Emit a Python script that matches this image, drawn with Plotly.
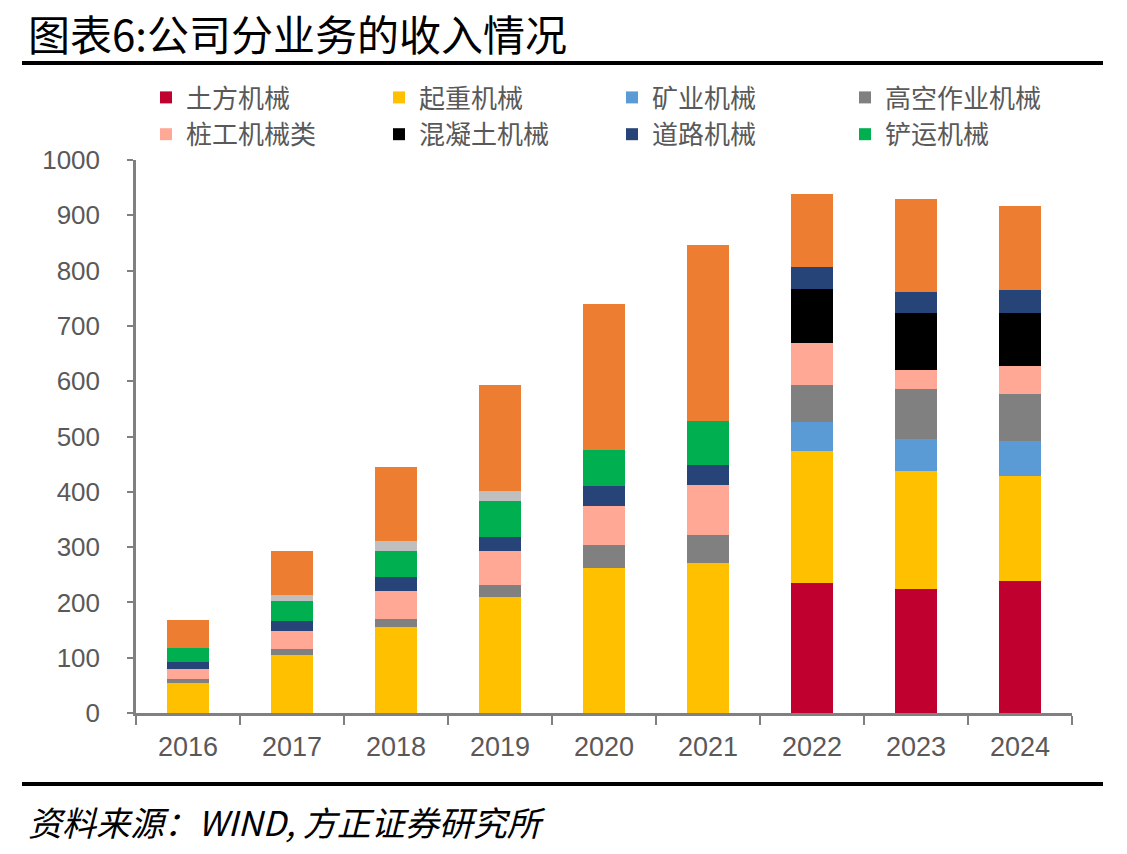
import plotly.graph_objects as go

years = ["2016", "2017", "2018", "2019", "2020", "2021", "2022", "2023", "2024"]

earth = [0, 0, 0, 0, 0, 0, 235, 224, 239]          # 土方机械
crane = [54, 104, 155, 209, 263, 271, 238, 213, 190]  # 起重机械
mining = [0, 0, 0, 0, 0, 0, 54, 58, 62]            # 矿业机械
aerial = [7, 11, 15, 22, 40, 51, 66, 90, 86]        # 高空作业机械
piling = [18, 33, 51, 62, 72, 90, 76, 36, 51]       # 桩工机械类
concrete = [0, 0, 0, 0, 0, 0, 97, 102, 95]          # 混凝土机械
road = [14, 18, 25, 25, 36, 36, 40, 39, 42]         # 道路机械
shovel = [25, 36, 47, 65, 65, 80, 0, 0, 0]         # 铲运机械
other_small = [0, 11, 18, 18, 0, 0, 0, 0, 0]        # 其他(浅灰)
other = [50, 80, 134, 192, 264, 318, 133, 167, 152] # 其他(橙)

series = [
    ("土方机械", earth, "#C0002F", True),
    ("起重机械", crane, "#FFC000", True),
    ("矿业机械", mining, "#5B9BD5", True),
    ("高空作业机械", aerial, "#808080", True),
    ("桩工机械类", piling, "#FFA895", True),
    ("混凝土机械", concrete, "#000000", True),
    ("道路机械", road, "#264478", True),
    ("铲运机械", shovel, "#00B050", True),
    ("其他机械", other_small, "#BFBFBF", False),
    ("其他", other, "#ED7D31", False),
]

W, H = 1127, 854
L, R, T, B = 136, 1072, 160, 713


def px(x):
    return (x - L) / (R - L)


def py(y):
    return (B - y) / (B - T)


fig = go.Figure()
for name, vals, color, show in series:
    fig.add_trace(go.Bar(
        x=years, y=vals, name=name, marker=dict(color=color, line=dict(width=0)),
        showlegend=show,
    ))

fig.update_layout(
    width=W, height=H, autosize=False,
    margin=dict(l=L, r=W - R, t=T, b=H - B),
    barmode="stack", bargap=0.6,
    plot_bgcolor="white", paper_bgcolor="white",
    font=dict(family="Liberation Sans, Arial", color="#595959"),
    legend=dict(
        orientation="h", traceorder="normal",
        x=px(146), y=py(74), xanchor="left", yanchor="top",
        entrywidth=188, entrywidthmode="pixels",
        font=dict(family="Noto Sans CJK SC", size=26, color="#595959"),
        bgcolor="rgba(0,0,0,0)", tracegroupgap=0, itemclick=False,
    ),
    xaxis=dict(
        showline=True, linecolor="#808080", linewidth=3,
        ticks="outside", tickson="boundaries", ticklen=9, tickwidth=2, tickcolor="#808080",
        tickfont=dict(size=27, color="#595959"), showgrid=False, ticklabelstandoff=8,
    ),
    yaxis=dict(
        range=[0, 1000], dtick=100, showline=True, linecolor="#808080", linewidth=2.5,
        ticks="outside", ticklen=6, tickwidth=2, tickcolor="#808080",
        tickfont=dict(size=26, color="#595959"), showgrid=False, zeroline=False,
        ticklabelstandoff=22,
    ),
    shapes=[
        dict(type="line", xref="paper", yref="paper", x0=px(22), x1=px(1103), y0=py(63), y1=py(63),
             line=dict(color="black", width=4)),
        dict(type="line", xref="paper", yref="paper", x0=px(22), x1=px(1103), y0=py(784), y1=py(784),
             line=dict(color="black", width=4)),
    ],
    annotations=[
        dict(text="图表6:公司分业务的收入情况", xref="paper", yref="paper", x=px(26), y=py(32),
             xanchor="left", yanchor="middle", showarrow=False,
             font=dict(family="Noto Sans CJK SC", size=42, color="black")),
        dict(text="<i>资料来源：WIND, 方正证券研究所</i>", xref="paper", yref="paper", x=px(26), y=py(821),
             xanchor="left", yanchor="middle", showarrow=False,
             font=dict(family="Noto Sans CJK SC", size=34, color="black")),
    ],
)

fig.write_html("out.html")
